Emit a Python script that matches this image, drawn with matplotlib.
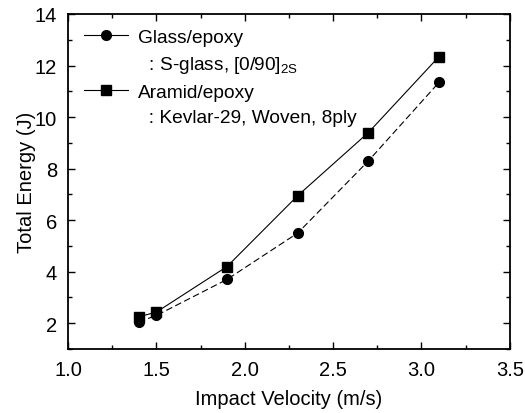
import numpy as np
import matplotlib
matplotlib.use('Agg')
import matplotlib.pyplot as plt
from matplotlib.lines import Line2D
from matplotlib.ticker import MultipleLocator

plt.rcParams['font.family'] = ['Liberation Sans', 'DejaVu Sans']
plt.rcParams['mathtext.default'] = 'regular'

velocity = [1.4, 1.5, 1.9, 2.3, 2.7, 3.1]
energy_glass = [2.05, 2.3, 3.7, 5.5, 8.3, 11.35]
energy_aramid = [2.25, 2.43, 4.2, 6.95, 9.4, 12.35]

fig = plt.figure(figsize=(5.25, 4.14), dpi=100)
fig.set_facecolor('white')
ax = fig.add_axes([0.1295, 0.1546, 0.8415, 0.8092])

ax.plot(velocity, energy_glass, 'k', linestyle=(0, (6, 3)), linewidth=0.8,
        marker='o', markersize=7)
ax.plot(velocity, energy_aramid, 'k-', linewidth=0.8,
        marker='s', markersize=6.5)

ax.set_xlim(1.0, 3.5)
ax.set_ylim(1, 14)
ax.xaxis.set_major_locator(MultipleLocator(0.5))
ax.xaxis.set_minor_locator(MultipleLocator(0.25))
ax.yaxis.set_major_locator(MultipleLocator(2))
ax.yaxis.set_minor_locator(MultipleLocator(1))
ax.tick_params(which='both', direction='in', top=True, right=True, labelsize=14.5)
ax.tick_params(which='major', length=5, width=1, pad=8)
ax.tick_params(which='minor', length=3, width=1)
for sp in ax.spines.values():
    sp.set_linewidth(1.3)

ax.set_xlabel('Impact Velocity (m/s)', fontsize=14.5, labelpad=7)
ax.set_ylabel('Total Energy (J)', fontsize=14.5, labelpad=-1)

h_glass = Line2D([], [], color='k', linewidth=0.8, marker='o', markersize=7)
h_aramid = Line2D([], [], color='k', linewidth=0.8, marker='s', markersize=6.5)
h_blank = Line2D([], [], linestyle='none')
ax.legend([h_glass, h_blank, h_aramid, h_blank],
          ['Glass/epoxy', '  : S-glass, [0/90]$_{2S}$',
           'Aramid/epoxy', '  : Kevlar-29, Woven, 8ply'],
          loc='upper left', bbox_to_anchor=(0.015, 0.985), frameon=False,
          fontsize=13.8, handlelength=2.3, handletextpad=0.5,
          labelspacing=0.42, borderaxespad=0.3, borderpad=0.2)

fig.savefig('out.png', dpi=100)
